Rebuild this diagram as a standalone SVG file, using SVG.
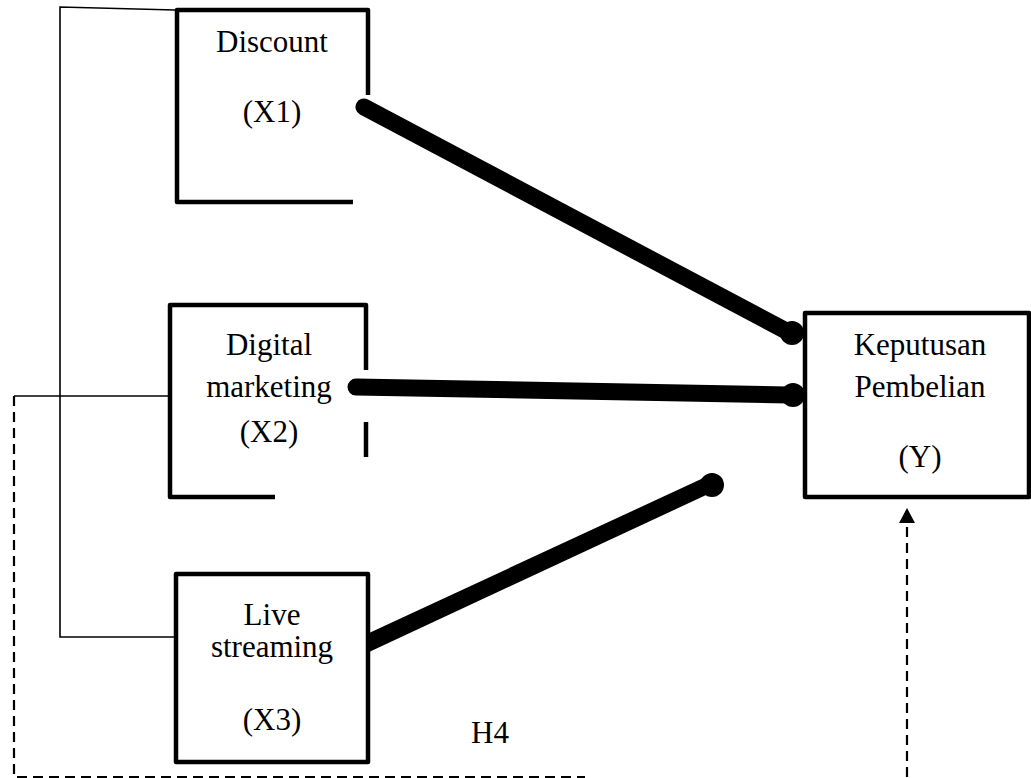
<svg xmlns="http://www.w3.org/2000/svg" width="1031" height="778" viewBox="0 0 1031 778">
<defs>
<style>
.box{fill:none;stroke:#000;stroke-width:4.5;stroke-linejoin:round}
.thin{fill:none;stroke:#000;stroke-width:1.6}
.dash{fill:none;stroke:#000;stroke-width:2.2;stroke-dasharray:10 6}
.thick{fill:none;stroke:#000;stroke-width:17;stroke-linecap:round}
.head{fill:#000}
text{font-family:"Liberation Serif","Times New Roman",serif;font-size:31px;fill:#000;text-anchor:middle}
</style>
<linearGradient id="fade" gradientUnits="userSpaceOnUse" x1="14" y1="0" x2="585" y2="0">
<stop offset="0" stop-color="#000"/>
<stop offset="0.7" stop-color="#000"/>
<stop offset="1" stop-color="#ddd"/>
</linearGradient>
</defs>
<rect width="1031" height="778" fill="#fff"/>

<g id="connectors">
<polyline class="thin" points="175,10 60,7 60,637 176,637"/>
<polyline class="thin" points="170,396 14,396"/>
<path class="dash" d="M14,396 L14,777 L585,777" stroke="url(#fade)"/>
<line class="dash" x1="907" y1="777" x2="907" y2="523"/>
<path d="M899,523 L907,508 L915,523 Z" fill="#000"/>
<line class="thick" x1="364" y1="107" x2="790" y2="333"/>
<circle class="head" cx="792" cy="333" r="12"/>
<line class="thick" x1="356" y1="387" x2="788" y2="395"/>
<circle class="head" cx="793" cy="395" r="12"/>
<path class="head" d="M368,633.5 L368,652.5 L711.5,492.5 L704.5,477.5 Z"/>
<circle class="head" cx="712" cy="485" r="12"/>
</g>

<g id="discount">
<path class="box" d="M353,202 L177,202 L177,10 L368,10 L368,95"/>
<text x="272" y="52">Discount</text>
<text x="272" y="122">(X1)</text>
</g>

<g id="digital-marketing">
<path class="box" d="M275,497 L170,497 L170,305 L366,305 L366,370"/>
<line class="box" x1="366" y1="422" x2="366" y2="457"/>
<text x="269" y="355">Digital</text>
<text x="269" y="397">marketing</text>
<text x="269" y="442">(X2)</text>
</g>

<g id="live-streaming">
<rect class="box" x="176" y="574" width="192" height="188"/>
<text x="272" y="625">Live</text>
<text x="272" y="657">streaming</text>
<text x="272" y="730">(X3)</text>
</g>

<g id="keputusan-pembelian">
<rect class="box" x="805" y="313" width="224" height="184"/>
<text x="920" y="355">Keputusan</text>
<text x="920" y="397">Pembelian</text>
<text x="920" y="467">(Y)</text>
</g>

<text x="490" y="743">H4</text>
</svg>
